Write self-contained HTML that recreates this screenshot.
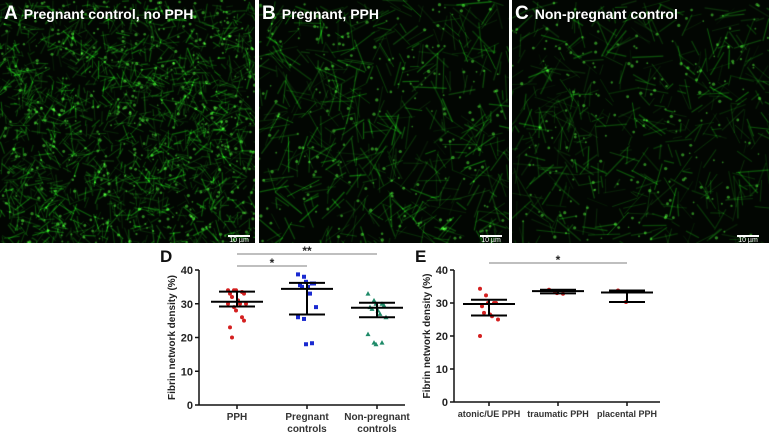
<!DOCTYPE html>
<html><head><meta charset="utf-8">
<style>
body{margin:0;width:771px;height:434px;background:#fff;overflow:hidden;position:relative;font-family:"Liberation Sans",sans-serif}
canvas{position:absolute;top:0}
.lbl{position:absolute;color:#fff;font-weight:bold;font-size:14px;text-shadow:0 0 1px #000}
.lbl b{font-size:19px;margin-right:6px}
.sb{position:absolute;border-top:2px solid #fff;width:22px;color:#fff;font-size:7px;text-align:center}
svg{position:absolute;left:0;top:0}
</style></head><body>
<canvas id="imgA" width="255" height="243" style="left:0"></canvas>
<canvas id="imgB" width="250" height="243" style="left:259px"></canvas>
<canvas id="imgC" width="257" height="243" style="left:512px"></canvas>
<div class="lbl" style="left:4px;top:3px"><b>A</b>Pregnant control, no PPH</div>
<div class="lbl" style="left:262px;top:3px"><b>B</b>Pregnant, PPH</div>
<div class="lbl" style="left:515px;top:3px"><b>C</b>Non-pregnant control</div>
<div class="sb" style="left:228px;top:235px">10 µm</div>
<div class="sb" style="left:480px;top:235px">10 µm</div>
<div class="sb" style="left:737px;top:235px">10 µm</div>
<svg id="plots" width="771" height="434"></svg>
<script>
// ---- chart data ----
const catsD=["PPH","Pregnant|controls","Non-pregnant|controls"];
const pphVals=[34,34,34,33.5,33,33,32,31,30,30,30,29,28,26,25,23,20];
const pregVals=[38.7,38,36.5,36,36,35.5,35,35,33,29,26,25.5,18,18.3];
const nonPregVals=[33,31,30,30,29.5,29,28.5,28,27,26,21,18.5,18,18.5];
const statsD=[[30.6,29.2,33.6],[34.4,26.8,36.2],[28.8,26,30.3]];
const catsE=["atonic/UE PPH","traumatic PPH","placental PPH"];
const atonicVals=[34.3,32.3,30,30,30,29,27,26.5,26,25,20];
const traumaticVals=[34,33.5,33,32.8];
const placentalVals=[33.8,33.5,30.3];
const statsE=[[29.7,26.2,31],[33.6,32.9,34],[33.2,30.3,33.8]];
const yTicks=[0,10,20,30,40];

// ---- micrographs (texture) ----
function rng(s){return function(){s=(s*1664525+1013904223)>>>0;return s/4294967296;}}
function micro(id,n,len,dots,seed,bright){
  const c=document.getElementById(id),g=c.getContext('2d'),r=rng(seed);
  g.fillStyle='#020602';g.fillRect(0,0,c.width,c.height);
  g.globalCompositeOperation='lighter';
  for(let i=0;i<n;i++){const x=r()*c.width,y=r()*c.height,a=r()*Math.PI,l=len*(0.3+r());
    g.strokeStyle='rgba(25,'+(100+r()*120|0)+',20,'+(bright*(0.35+r()*0.65))+')';g.lineWidth=0.7+r()*0.7;
    g.beginPath();g.moveTo(x,y);g.lineTo(x+Math.cos(a)*l,y+Math.sin(a)*l);g.stroke();}
  for(let i=0;i<dots;i++){g.fillStyle='rgba(70,210,50,0.6)';g.beginPath();g.arc(r()*c.width,r()*c.height,0.8+r()*0.9,0,7);g.fill();}
}
micro('imgA',1700,15,450,7,0.5);
micro('imgB',550,28,200,11,0.5);
micro('imgC',500,26,200,23,0.45);

// ---- plots ----
const svg=document.getElementById('plots'),NS='http://www.w3.org/2000/svg';
function el(t,a,txt){const e=document.createElementNS(NS,t);for(const k in a)e.setAttribute(k,a[k]);if(txt!==undefined)e.textContent=txt;svg.appendChild(e);return e;}
function plot(P){
  const ys=v=>P.y0-(v/40)*(P.y0-P.y40);
  let e=el('line',{x1:P.ax,y1:P.y40,x2:P.ax,y2:P.y0,stroke:'#111','stroke-width':1.5});
  
  e=el('line',{x1:P.ax,y1:P.y0,x2:P.xend,y2:P.y0,stroke:'#111','stroke-width':1.5});
  
  yTicks.forEach(t=>{el('line',{x1:P.ax-4,x2:P.ax,y1:ys(t),y2:ys(t),stroke:'#111','stroke-width':1.5});
    e=el('text',{x:P.ax-6,y:ys(t)+4,'text-anchor':'end','font-size':11,'font-weight':'bold',fill:'#222'},t);
    });
  e=el('text',{transform:'translate('+(P.ax-24)+','+((P.y0+P.y40)/2)+') rotate(-90)','text-anchor':'middle','font-size':10,'font-weight':'bold',fill:'#222'},'Fibrin network density (%)');
  
  e=el('text',{x:P.lx,y:P.ly,'font-size':17,'font-weight':'bold',fill:'#111'},P.letter);
  
  P.cats.forEach((c,i)=>{const x=P.xs[i];
    el('line',{x1:x,x2:x,y1:P.y0,y2:P.y0+4,stroke:'#111','stroke-width':1.5});
    c.split('|').forEach((s,j)=>{e=el('text',{x:x,y:P.y0+15+j*12,'text-anchor':'middle','font-size':P.fs,'font-weight':'bold',fill:'#333'},s);
      });
    const vals=P.series[i];
    vals.forEach((v,k)=>{const off=((k%5)-2)*4+(k%2?1:-1);const px=x+off,py=ys(v);
      if(P.shape[i]==='sq')e=el('rect',{x:px-2,y:py-2,width:4,height:4,fill:P.col[i]});
      else if(P.shape[i]==='tri')e=el('path',{d:`M${px},${py-2.5}L${px+2.5},${py+2}L${px-2.5},${py+2}Z`,fill:P.col[i]});
      else e=el('circle',{cx:px,cy:py,r:2,fill:P.col[i]});
      });
    const s=P.stats[i];
    e=el('line',{x1:x-26,x2:x+26,y1:ys(s[0]),y2:ys(s[0]),stroke:'#000','stroke-width':2});
    
    el('line',{x1:x,x2:x,y1:ys(s[1]),y2:ys(s[2]),stroke:'#000','stroke-width':2});
    el('line',{x1:x-18,x2:x+18,y1:ys(s[1]),y2:ys(s[1]),stroke:'#000','stroke-width':2});
    el('line',{x1:x-18,x2:x+18,y1:ys(s[2]),y2:ys(s[2]),stroke:'#000','stroke-width':2});
  });
  P.sig.forEach(g=>{e=el('line',{x1:P.xs[g[0]],x2:P.xs[g[1]],y1:g[2],y2:g[2],stroke:'#999','stroke-width':1.2});
    
    el('text',{x:(P.xs[g[0]]+P.xs[g[1]])/2,y:g[2]+1,'text-anchor':'middle','font-size':12,'font-weight':'bold',fill:'#222'},g[3]);});
}
plot({id:'plot-d',letter:'D',lx:160,ly:262,ax:199,xend:405,y0:405,y40:270,xs:[237,307,377],cats:catsD,fs:10,
  series:[pphVals,pregVals,nonPregVals],stats:statsD,col:['#d42020','#1a2ad0','#1e8a68'],shape:['c','sq','tri'],
  sig:[[0,2,254,'**'],[0,1,266,'*']]});
plot({id:'plot-e',letter:'E',lx:415,ly:262,ax:454,xend:660,y0:402,y40:270,xs:[489,558,627],cats:catsE,fs:9,
  series:[atonicVals,traumaticVals,placentalVals],stats:statsE,col:['#d42020','#d42020','#d42020'],shape:['c','c','c'],
  sig:[[0,2,263,'*']]});
</script>
</body></html>
